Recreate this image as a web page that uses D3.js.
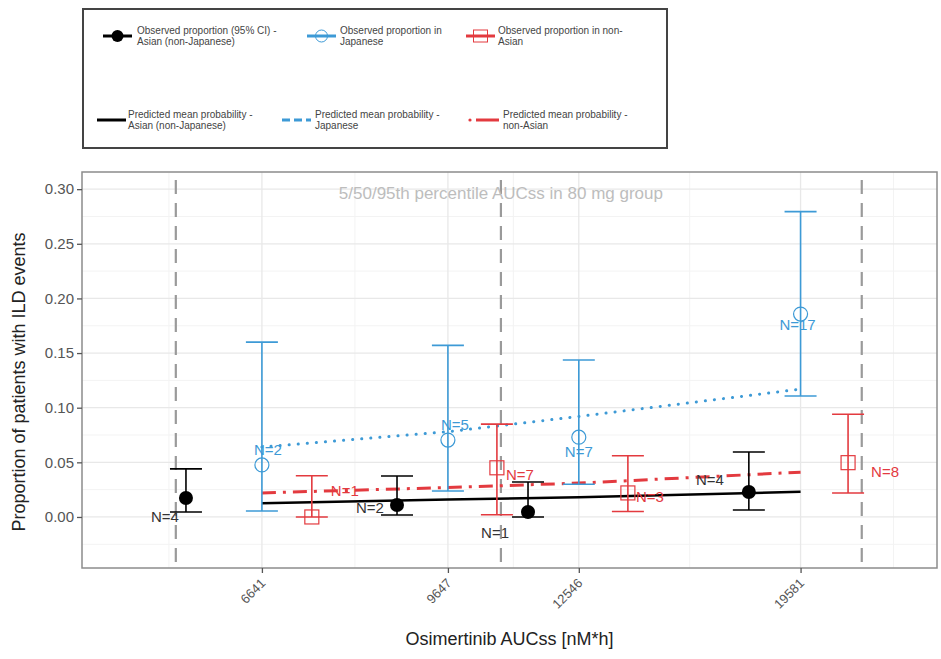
<!DOCTYPE html>
<html>
<head>
<meta charset="utf-8">
<script src="https://cdn.jsdelivr.net/npm/d3@7"></script>
<style>
  body { margin: 0; background: #fff; }
  svg { font-family: "Liberation Sans", Arial, sans-serif; }
</style>
</head>
<body>
<svg id="chart" width="941" height="659"></svg>
<script>
// x tick values (AUCss, log scale)
var xTicks = [6641, 9647, 12546, 19581];
var yTicks = [0, 0.05, 0.10, 0.15, 0.20, 0.25, 0.30];
var percentiles = [5587, 10730, 22140];

// observed proportions with 95% CI
var asianX = [5702, 8710, 11330, 17650];
var asianP = [0.0174, 0.011, 0.0046, 0.0229];
var asianLo = [0.0046, 0.0018, 0.0, 0.0064];
var asianHi = [0.044, 0.0375, 0.032, 0.0595];
var asianN = [4, 2, 1, 4];

var japanX = [6641, 9647, 12546, 19581];
var japanP = [0.0476, 0.0704, 0.073, 0.1857];
var japanLo = [0.0055, 0.0238, 0.030, 0.1107];
var japanHi = [0.160, 0.157, 0.1436, 0.2794];
var japanN = [2, 5, 7, 17];

var nonAsianX = [7341, 10644, 13845, 21540];
var nonAsianP = [0.0, 0.045, 0.022, 0.0497];
var nonAsianLo = [0.0, 0.002, 0.005, 0.022];
var nonAsianHi = [0.0377, 0.085, 0.056, 0.094];
var nonAsianN = [1, 7, 3, 8];

// predicted mean probability
var predX = [6641, 9647, 12546, 19581];
var predAsian = [0.0125, 0.016, 0.018, 0.023];
var predJapan = [0.064, 0.078, 0.092, 0.117];
var predNonAsian = [0.022, 0.027, 0.031, 0.041];

var svg = d3.select('#chart');
var panel = {left: 82, right: 937, top: 172, bottom: 568};

var xScale = d3.scaleLog().domain([4628, 25750]).range([panel.left, panel.right]);
var yScale = d3.scaleLinear().domain([-0.0467, 0.3157]).range([panel.bottom, panel.top]);

var black = '#000000', blue = '#3d9ad6', red = '#e33a3f';

// grid
var lx = xTicks.map(function(d) { return Math.log10(d); });
var bd = lx[1] - lx[0];
var ext = [lx[0] - bd].concat(lx, [lx[lx.length - 1] + bd]);
var xMinor = [];
for (var i = 0; i < ext.length - 1; i++) xMinor.push(Math.pow(10, (ext[i] + ext[i + 1]) / 2));
var yMinor = d3.range(-0.025, 0.31, 0.05);

var grid = svg.append('g');
grid.selectAll('.ymin').data(yMinor).enter().append('line')
  .attr('x1', panel.left).attr('x2', panel.right)
  .attr('y1', function(d) { return yScale(d); }).attr('y2', function(d) { return yScale(d); })
  .attr('stroke', '#f3f3f3').attr('stroke-width', 1);
grid.selectAll('.xmin').data(xMinor).enter().append('line')
  .attr('y1', panel.top).attr('y2', panel.bottom)
  .attr('x1', function(d) { return xScale(d); }).attr('x2', function(d) { return xScale(d); })
  .attr('stroke', '#f3f3f3').attr('stroke-width', 1);
grid.selectAll('.ymaj').data(yTicks).enter().append('line')
  .attr('x1', panel.left).attr('x2', panel.right)
  .attr('y1', function(d) { return yScale(d); }).attr('y2', function(d) { return yScale(d); })
  .attr('stroke', '#e8e8e8').attr('stroke-width', 1.3);
grid.selectAll('.xmaj').data(xTicks).enter().append('line')
  .attr('y1', panel.top).attr('y2', panel.bottom)
  .attr('x1', function(d) { return xScale(d); }).attr('x2', function(d) { return xScale(d); })
  .attr('stroke', '#e8e8e8').attr('stroke-width', 1.3);

// percentile lines
svg.selectAll('.pct').data(percentiles).enter().append('line')
  .attr('x1', function(d) { return xScale(d); }).attr('x2', function(d) { return xScale(d); })
  .attr('y1', panel.top + 8).attr('y2', panel.bottom)
  .attr('stroke', '#9a9a9a').attr('stroke-width', 2.2)
  .attr('stroke-dasharray', '14,9');

svg.append('text')
  .text('5/50/95th percentile AUCss in 80 mg group')
  .attr('x', xScale(percentiles[1])).attr('y', 199)
  .attr('text-anchor', 'middle')
  .style('font-size', '17px').style('fill', '#bdbdbd');

// predicted lines
var line = function(vals) {
  return d3.line()
    .x(function(d, i) { return xScale(predX[i]); })
    .y(function(d) { return yScale(d); })(vals);
};
svg.append('path').attr('d', line(predAsian))
  .attr('fill', 'none').attr('stroke', black).attr('stroke-width', 2.5);
svg.append('path').attr('d', line(predJapan))
  .attr('fill', 'none').attr('stroke', blue).attr('stroke-width', 3)
  .attr('stroke-linecap', 'round').attr('stroke-dasharray', '0.1,9');
svg.append('path').attr('d', line(predNonAsian))
  .attr('fill', 'none').attr('stroke', red).attr('stroke-width', 3)
  .attr('stroke-dasharray', '14,7,3,7');

// error bars
var errorBars = function(xs, lo, hi, color) {
  var g = svg.append('g').attr('stroke', color).attr('stroke-width', 1.6);
  xs.forEach(function(x, i) {
    var cx = xScale(x);
    g.append('line').attr('x1', cx).attr('x2', cx).attr('y1', yScale(lo[i])).attr('y2', yScale(hi[i]));
    g.append('line').attr('x1', cx - 16).attr('x2', cx + 16).attr('y1', yScale(lo[i])).attr('y2', yScale(lo[i]));
    g.append('line').attr('x1', cx - 16).attr('x2', cx + 16).attr('y1', yScale(hi[i])).attr('y2', yScale(hi[i]));
  });
};
errorBars(asianX, asianLo, asianHi, black);
errorBars(japanX, japanLo, japanHi, blue);
errorBars(nonAsianX, nonAsianLo, nonAsianHi, red);

// points
svg.selectAll('.dotA').data(asianP).enter().append('circle')
  .attr('cx', function(d, i) { return xScale(asianX[i]); })
  .attr('cy', function(d) { return yScale(d); })
  .attr('r', 7).attr('fill', black);
svg.selectAll('.dotJ').data(japanP).enter().append('circle')
  .attr('cx', function(d, i) { return xScale(japanX[i]); })
  .attr('cy', function(d) { return yScale(d); })
  .attr('r', 7).attr('fill', 'none').attr('stroke', blue).attr('stroke-width', 1.2);
svg.selectAll('.dotN').data(nonAsianP).enter().append('rect')
  .attr('x', function(d, i) { return xScale(nonAsianX[i]) - 7; })
  .attr('y', function(d) { return yScale(d) - 7; })
  .attr('width', 14).attr('height', 14)
  .attr('fill', 'none').attr('stroke', red).attr('stroke-width', 1.2);

// N labels, offsets from each point
var nLabels = function(xs, ps, ns, offs, color) {
  ns.forEach(function(n, i) {
    svg.append('text')
      .text('N=' + n)
      .attr('x', xScale(xs[i]) + offs[i][0])
      .attr('y', yScale(ps[i]) + offs[i][1])
      .attr('text-anchor', 'middle')
      .style('font-size', '15px').style('fill', color);
  });
};
nLabels(asianX, asianP, asianN, [[-21, 24], [-27, 8], [-33, 26], [-39, -7]], '#333');
nLabels(japanX, japanP, japanN, [[6, -10], [7, -10], [0, 20], [-3, 16]], blue);
nLabels(nonAsianX, nonAsianP, nonAsianN, [[33, -21], [23, 12], [22, 9], [37, 14]], red);

// panel border
svg.append('rect')
  .attr('x', panel.left).attr('y', panel.top)
  .attr('width', panel.right - panel.left).attr('height', panel.bottom - panel.top)
  .attr('fill', 'none').attr('stroke', '#8c8c8c').attr('stroke-width', 1.5);

// y axis
var yAxis = svg.append('g')
  .attr('transform', 'translate(' + panel.left + ',0)')
  .call(d3.axisLeft(yScale).tickValues(yTicks).tickFormat(d3.format('.2f')).tickSize(5).tickPadding(3));
yAxis.select('.domain').remove();
yAxis.selectAll('line').attr('stroke', '#555').attr('stroke-width', 1.3);
yAxis.selectAll('text').style('font-size', '15px').style('fill', '#555')
  .style('font-family', '"Liberation Sans", Arial, sans-serif');

// x axis
var xAxis = svg.append('g')
  .attr('transform', 'translate(0,' + panel.bottom + ')')
  .call(d3.axisBottom(xScale).tickValues(xTicks).tickFormat(d3.format('d')).tickSize(5));
xAxis.select('.domain').remove();
xAxis.selectAll('line').attr('stroke', '#555').attr('stroke-width', 1.3);
xAxis.selectAll('text')
  .attr('y', 0).attr('dy', 0)
  .attr('transform', 'translate(4,16) rotate(-45)')
  .attr('text-anchor', 'end')
  .style('font-size', '13px').style('fill', '#555')
  .style('font-family', '"Liberation Sans", Arial, sans-serif');

svg.append('text')
  .text('Osimertinib AUCss [nM*h]')
  .attr('x', (panel.left + panel.right) / 2).attr('y', 645)
  .attr('text-anchor', 'middle')
  .style('font-size', '18px').style('fill', '#222');

svg.append('text')
  .text('Proportion of patients with ILD events')
  .attr('transform', 'translate(25,' + ((panel.top + panel.bottom) / 2 + 12) + ') rotate(-90)')
  .attr('text-anchor', 'middle')
  .style('font-size', '18px').style('fill', '#222');

// legend
var legend = svg.append('g');
legend.append('rect')
  .attr('x', 83).attr('y', 9).attr('width', 584).attr('height', 139)
  .attr('fill', '#fff').attr('stroke', '#444').attr('stroke-width', 2);

var legendItems = [
  {x: 103, y: 36, tx: 137, lines: ['Observed proportion (95% CI) -', 'Asian (non-Japanese)'], type: 'dot', color: black},
  {x: 307, y: 36, tx: 340, lines: ['Observed proportion in', 'Japanese'], type: 'circle', color: blue},
  {x: 466, y: 36, tx: 498, lines: ['Observed proportion in non-', 'Asian'], type: 'square', color: red},
  {x: 97, y: 120, tx: 128, lines: ['Predicted mean probability -', 'Asian (non-Japanese)'], type: 'solid', color: black},
  {x: 282, y: 120, tx: 315, lines: ['Predicted mean probability -', 'Japanese'], type: 'dotted', color: blue},
  {x: 470, y: 120, tx: 503, lines: ['Predicted mean probability -', 'non-Asian'], type: 'dashdot', color: red}
];
legendItems.forEach(function(d) {
  var w = 29;
  var key = legend.append('line')
    .attr('x1', d.x).attr('x2', d.x + w).attr('y1', d.y).attr('y2', d.y)
    .attr('stroke', d.color).attr('stroke-width', 3);
  if (d.type == 'dotted') key.attr('stroke-dasharray', '8,4');
  if (d.type == 'dashdot') {
    key.attr('x1', d.x + 6);
    legend.append('circle').attr('cx', d.x).attr('cy', d.y).attr('r', 1.6).attr('fill', d.color);
  }
  if (d.type == 'dot') legend.append('circle').attr('cx', d.x + w / 2).attr('cy', d.y).attr('r', 6).attr('fill', d.color);
  if (d.type == 'circle') legend.append('circle').attr('cx', d.x + w / 2).attr('cy', d.y).attr('r', 6)
    .attr('fill', 'none').attr('stroke', d.color).attr('stroke-width', 1);
  if (d.type == 'square') legend.append('rect').attr('x', d.x + w / 2 - 7).attr('y', d.y - 6).attr('width', 14).attr('height', 12)
    .attr('fill', 'none').attr('stroke', d.color).attr('stroke-width', 1);
  d.lines.forEach(function(t, j) {
    legend.append('text').text(t)
      .attr('x', d.tx).attr('y', d.y - 2 + j * 11)
      .style('font-size', '10px').style('fill', '#444');
  });
});
</script>
</body>
</html>
